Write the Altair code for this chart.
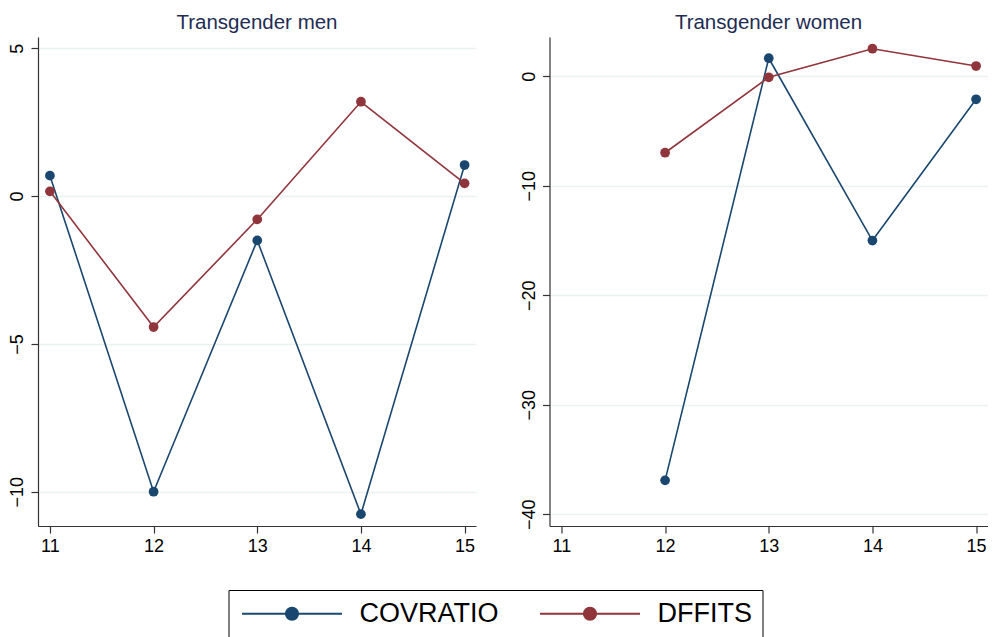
import altair as alt
import pandas as pd

x_vals = [11, 12, 13, 14, 15]
series_names = ["COVRATIO", "DFFITS"]

men_covratio = [0.69, -10.0, -1.5, -10.76, 1.05]
men_dffits = [0.16, -4.43, -0.79, 3.19, 0.43]

women_x = [12, 13, 14, 15]
women_covratio = [-36.9, 1.65, -15.0, -2.1]
women_dffits = [-6.98, -0.09, 2.52, 0.94]

men_yticks = [5, 0, -5, -10]
women_yticks = [0, -10, -20, -30, -40]
xticks = [11, 12, 13, 14, 15]

colors = ["#1a476f", "#90353b"]

men = pd.DataFrame(
    [{"x": x, "value": v, "series": "COVRATIO"} for x, v in zip(x_vals, men_covratio)]
    + [{"x": x, "value": v, "series": "DFFITS"} for x, v in zip(x_vals, men_dffits)]
)
women = pd.DataFrame(
    [{"x": x, "value": v, "series": "COVRATIO"} for x, v in zip(women_x, women_covratio)]
    + [{"x": x, "value": v, "series": "DFFITS"} for x, v in zip(women_x, women_dffits)]
)

FONT = "Liberation Sans"
sym_path = "M-1,0L9,0M4.6,0A0.6,0.6,0,1,1,3.4,0A0.6,0.6,0,1,1,4.6,0Z"

legend = alt.Legend(
    title=" ",
    titleOrient="bottom",
    titleFontSize=20,
    orient="none",
    legendX=190.5,
    legendY=553,
    direction="horizontal",
    symbolType=sym_path,
    symbolSize=400,
    symbolStrokeWidth=2.2,
    labelFont=FONT,
    labelFontSize=27,
    labelColor="#000000",
    labelOffset=94,
    columnPadding=36,
    padding=10,
    strokeColor="#000000",
    fillColor="#ffffff",
)

stroke_scale = alt.Scale(domain=series_names, range=colors)


def panel(df, title, domain, yticks):
    xenc = alt.X(
        "x:Q",
        scale=alt.Scale(domain=[10.885, 15.11], nice=False, zero=False),
        axis=alt.Axis(values=xticks, title=None, grid=False, format="d"),
    )
    yenc = alt.Y(
        "value:Q",
        scale=alt.Scale(domain=domain, nice=False, zero=False),
        axis=alt.Axis(values=yticks, title=None, grid=True, labelAngle=270,
                      labelAlign="center", labelBaseline="bottom", format="d"),
    )
    base = alt.Chart(df)
    lines = base.mark_line(strokeWidth=1.6).encode(
        x=xenc, y=yenc,
        stroke=alt.Stroke("series:N", scale=stroke_scale, legend=legend),
        detail="series:N",
    )
    points = base.mark_point(filled=True, size=95, opacity=1, strokeWidth=0).encode(
        x=xenc, y=yenc,
        fill=alt.Fill("series:N", scale=stroke_scale, legend=legend),
        stroke=alt.Stroke("series:N", scale=stroke_scale, legend=legend),
    )
    return alt.layer(lines, points).properties(
        width=438, height=489,
        title=alt.TitleParams(title, fontSize=20.5, font=FONT, color="#1e2c53",
                              fontWeight="normal", offset=4),
    )


left = panel(men, "Transgender men", [-11.16, 5.38], men_yticks)
right = panel(women, "Transgender women", [-41.07, 3.59], women_yticks)

chart = alt.hconcat(left, right, spacing=43.5).properties(
    padding={"left": 0, "top": 4, "right": 0, "bottom": 0},
    background="#ffffff",
).configure_view(stroke=None).configure_axis(
    labelFont=FONT, labelFontSize=18, labelColor="#000000",
    domainColor="#333333", tickColor="#333333", domainWidth=1.2, tickWidth=1.2,
    tickSize=7, labelPadding=4.5, gridColor="#eaf2f3", gridWidth=1.5,
)

chart.save("out.html", embed_options={"renderer": "svg", "actions": False})
